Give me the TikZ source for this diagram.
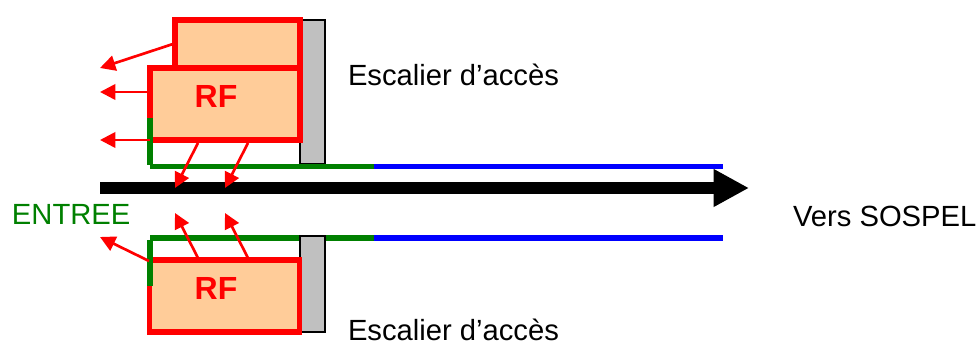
\documentclass[tikz,border=0pt]{standalone}
\usepackage{fontspec}
\setmainfont{Liberation Sans}
\usetikzlibrary{arrows.meta}
\definecolor{boxfill}{RGB}{255,204,153}
\definecolor{wallgray}{RGB}{192,192,192}
\definecolor{entreegreen}{RGB}{0,128,0}
\tikzset{
  stair/.style={draw=black,line width=1.1pt,fill=wallgray,anchor=north west,inner sep=0pt,outer sep=0pt},
  rfbox/.style={draw=red,line width=4pt,fill=boxfill,anchor=north west,inner sep=0pt,outer sep=0pt},
  greenline/.style={draw=entreegreen,line width=4pt},
  blueline/.style={draw=blue,line width=4pt},
  firearrow/.style={draw=red,line width=2pt,-{Triangle[length=11.5pt,width=11.5pt]}},
  mainarrow/.style={draw=black,line width=9pt,-{Triangle[length=26.5pt,width=26.5pt]}},
  label/.style={anchor=base west,inner sep=0pt,outer sep=0pt,font=\fontsize{21.9}{24}\selectfont},
  rflabel/.style={anchor=base,inner sep=0pt,outer sep=0pt,text=red,font=\fontsize{24}{28}\selectfont\bfseries}
}
\begin{document}
\begin{tikzpicture}[x=0.75pt,y=-0.75pt]
\useasboundingbox (0,0) rectangle (980,341);
% named points
\coordinate (gt0) at (150,118);
\coordinate (gt1) at (150,166.5);
\coordinate (gt2) at (374,166.5);
\coordinate (bt) at (723,166.5);
\coordinate (gb0) at (150,286);
\coordinate (gb1) at (150,238);
\coordinate (gb2) at (374,238);
\coordinate (bb) at (723,238);
\coordinate (roadA) at (100,188);
\coordinate (roadB) at (749,188);
% free ends
\coordinate (s1) at (173,44); \coordinate (e1) at (100,68);
\coordinate (s2) at (149,92); \coordinate (e2) at (100,92);
\coordinate (s3) at (150,140); \coordinate (e3) at (100,140);
\coordinate (s4) at (198,143); \coordinate (e4) at (175,188);
\coordinate (s5) at (248,143); \coordinate (e5) at (225,188);
\coordinate (s6) at (198,258); \coordinate (e6) at (175,213);
\coordinate (s7) at (248,258); \coordinate (e7) at (225,213);
\coordinate (s8) at (149,261); \coordinate (e8) at (100,237);
% stairs upper
\node[stair,minimum width=18.75pt,minimum height=108pt] (stairT) at (300,20) {};
% lines
\draw[blueline] (gt2) -- (bt);
\draw[blueline] (gb2) -- (bb);
\draw[greenline] (gt1) -- (gt2);
\draw[greenline] (gb1) -- (gb2);
\node[stair,minimum width=18.75pt,minimum height=72pt] (stairB) at (300,236) {};
% boxes
\node[rfbox,minimum width=93.75pt,minimum height=36pt] (boxT) at (175,20) {};
\node[rfbox,minimum width=112.5pt,minimum height=54pt] (boxM) at (150,68) {};
\node[rfbox,minimum width=112.5pt,minimum height=54pt] (boxB) at (149.5,260) {};
% green verticals over the boxes
\draw[greenline] (gt0) -- ([yshift=1.2pt]gt1);
\draw[greenline] (gb0) -- ([yshift=-1.2pt]gb1);
% road
\draw[mainarrow] (roadA) -- (roadB);
% fire arrows
\draw[firearrow] (s1) -- (e1);
\draw[firearrow] (s2) -- (e2);
\draw[firearrow] (s3) -- (e3);
\draw[firearrow] (s4) -- (e4);
\draw[firearrow] (s5) -- (e5);
\draw[firearrow] (s6) -- (e6);
\draw[firearrow] (s7) -- (e7);
\draw[firearrow] (s8) -- (e8);
% text
\node[rflabel] (rfT) at (216,108) {RF};
\node[rflabel] (rfB) at (216,300) {RF};
\node[label] (esc1) at (348,86) {Escalier d’accès};
\node[label] (esc2) at (348,340) {Escalier d’accès};
\node[label,text=entreegreen] (ent) at (12,225) {ENTREE};
\node[label] (vers) at (793,227) {Vers SOSPEL};
\end{tikzpicture}
\end{document}
